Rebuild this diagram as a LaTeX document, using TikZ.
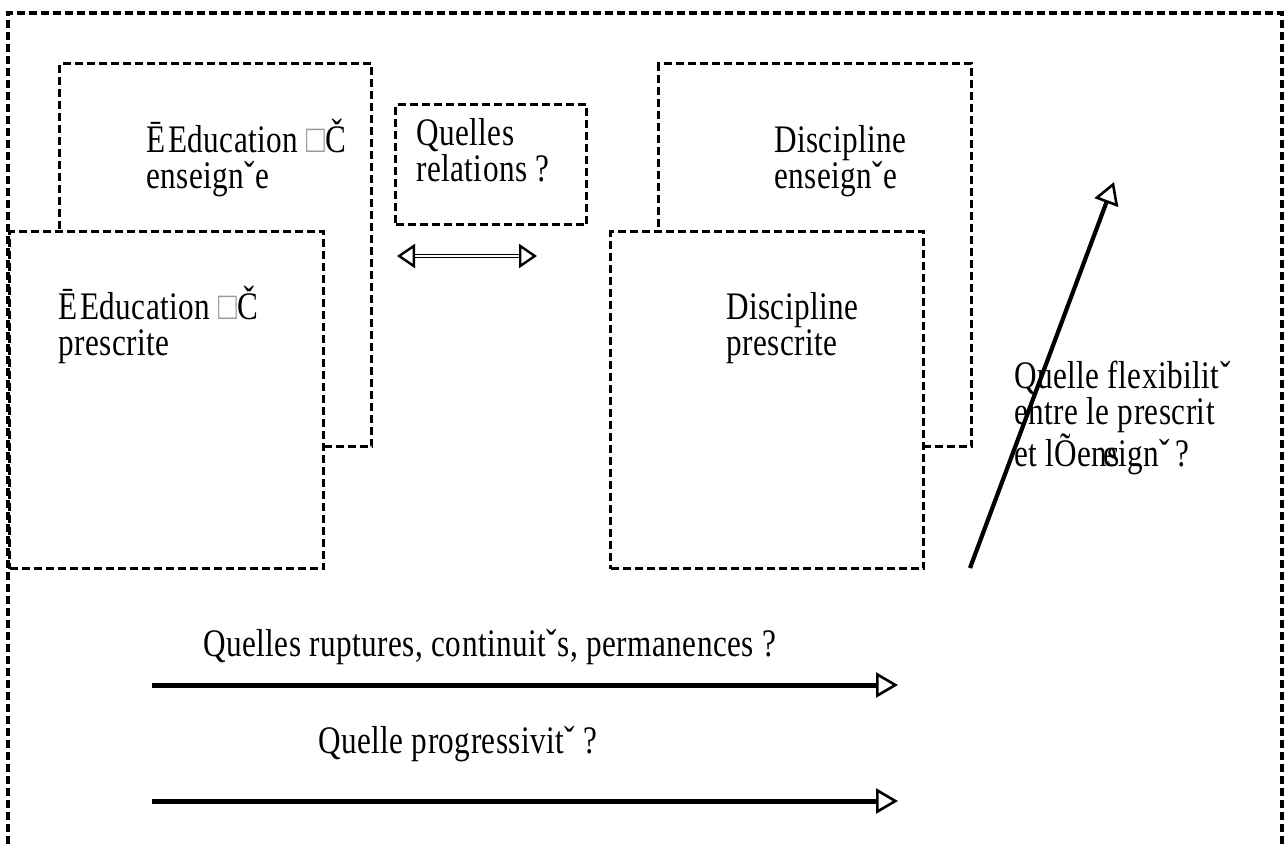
\documentclass[tikz,border=0pt]{standalone}
\usepackage{fontspec}
\setmainfont{Liberation Serif}[FakeStretch=0.8,LetterSpace=1.2]
\usetikzlibrary{arrows.meta}
\begin{document}
\begin{tikzpicture}[x=1pt,y=-1pt,
  dbox/.style={draw=black,fill=white,line width=3.2pt,dash pattern=on 8pt off 4pt,rectangle,inner sep=0pt,anchor=north west},
  txt/.style={anchor=base west,inner sep=0pt,align=left,font=\fontsize{39}{36}\selectfont},
  bigarrow/.style={line width=5pt,-{Triangle[open,length=22pt,width=25pt,line width=2.6pt]}}
]
\useasboundingbox (0,0) rectangle (1285,847);
% outer frame
\draw[line width=3.2pt,dash pattern=on 8pt off 4pt] (8,880) -- (8,13) -- (1282,13) -- (1282,880);
% left pair
\node[dbox,minimum width=312pt,minimum height=383pt] (ea) at (58,62) {};
\node[dbox,minimum width=314pt,minimum height=337pt] (ep) at (8,230) {};
\node[txt] (eat) at (146,188) {Ē\kern3pt Education \textcolor{black!40}{□}Č\\enseignˇe};
\node[txt] (ept) at (58,355) {Ē\kern3pt Education \textcolor{black!40}{□}Č\\prescrite};
% relations box
\node[dbox,minimum width=191pt,minimum height=120pt] (rel) at (394,103) {};
\node[txt] (relt) at (416,181) {Quelles\\relations ?};
\coordinate (dl) at (397,256);
\coordinate (dr) at (537,256);
\draw[line width=1.6pt,double=white,double distance=1.3pt,{Triangle[open,length=18pt,width=24pt,line width=2.4pt]}-{Triangle[open,length=18pt,width=24pt,line width=2.4pt]}] (dl) -- (dr);
% right pair
\node[dbox,minimum width=313pt,minimum height=383pt] (da) at (657,62) {};
\node[dbox,minimum width=313pt,minimum height=337pt] (dp) at (609,230) {};
\node[txt] (dat) at (774,188) {Discipline\\enseignˇe};
\node[txt] (dpt) at (726,355) {Discipline\\prescrite};
% flexibility
\node[txt] (flex) at (1014,466) {Quelle flexibilitˇ\\entre le prescrit\\et lÕens\kern-0.42em eignˇ\kern6pt ?};
\coordinate (fs) at (970,568);
\coordinate (fe) at (1114,182);
\draw[line width=4.2pt,-{Triangle[open,length=22pt,width=25pt,line width=2.6pt]}] (fs) -- (fe);
% bottom arrows
\coordinate (a1s) at (152,685);
\coordinate (a1e) at (898,685);
\coordinate (a2s) at (152,801);
\coordinate (a2e) at (898,801);
\draw[bigarrow] (a1s) -- (a1e);
\draw[bigarrow] (a2s) -- (a2e);
\node[txt] (rupt) at (203,656) {Quelles ruptures, continuitˇs, permanences ?};
\node[txt] (prog) at (318,753) {Quelle progressivitˇ ?};
\end{tikzpicture}
\end{document}
